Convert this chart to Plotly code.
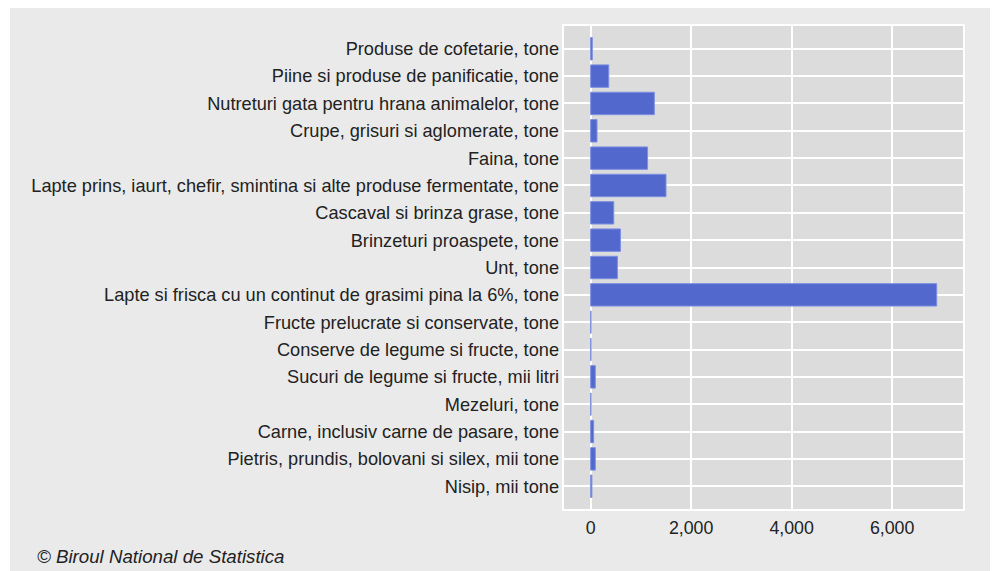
import plotly.graph_objects as go

# categories, top to bottom
products = [
    "Produse de cofetarie, tone",
    "Piine si produse de panificatie, tone",
    "Nutreturi gata pentru hrana animalelor, tone",
    "Crupe, grisuri si aglomerate, tone",
    "Faina, tone",
    "Lapte prins, iaurt, chefir, smintina si alte produse fermentate, tone",
    "Cascaval si brinza grase, tone",
    "Brinzeturi proaspete, tone",
    "Unt, tone",
    "Lapte si frisca cu un continut de grasimi pina la 6%, tone",
    "Fructe prelucrate si conservate, tone",
    "Conserve de legume si fructe, tone",
    "Sucuri de legume si fructe, mii litri",
    "Mezeluri, tone",
    "Carne, inclusiv carne de pasare, tone",
    "Pietris, prundis, bolovani si silex, mii tone",
    "Nisip, mii tone",
]
quantity = [33, 360, 1267, 127, 1133, 1500, 460, 593, 533, 6887,
            8, 8, 93, 8, 60, 93, 25]

x_ticks = [0, 2000, 4000, 6000]

# the page body puts the figure 8px in from the top/left edge,
# so everything below is in figure pixels (picture pixels minus 8)
OFF = 8
W, H = 998 - OFF, 571 - OFF
L, R, T, B = 563 - OFF, 964 - OFF, 25 - OFF, 510 - OFF
pw, ph = R - L, B - T


def px(xp):
    return (xp - OFF - L) / pw


def py(yp):
    return (B - (yp - OFF)) / ph


fig = go.Figure()

fig.add_trace(go.Bar(
    x=quantity, y=products, orientation="h", width=0.82,
    marker=dict(color="#5268cd", line=dict(color="#7d8fe0", width=1)),
    hoverinfo="x+y",
))

fig.update_layout(
    width=W, height=H,
    margin=dict(l=L, r=W - R, t=T, b=H - B, pad=0),
    paper_bgcolor="#eaeaea",
    plot_bgcolor="#dcdcdc",
    font=dict(family="Liberation Sans, Arial, sans-serif", size=18.2, color="#222222"),
    showlegend=False,
    # extra white strip at the very left
    shapes=[dict(type="rect", xref="paper", yref="paper", x0=px(8), x1=px(10),
                 y0=py(571), y1=py(8), fillcolor="white", line_width=0, layer="below")],
    annotations=[dict(
        text="<i>© Biroul National de Statistica</i>", xref="paper", yref="paper",
        x=px(35), y=py(556), xanchor="left", yanchor="middle", showarrow=False,
        font=dict(size=18.7, color="#222222"),
    )],
)

fig.update_xaxes(
    range=[-550, 7430], tickvals=x_ticks, tickformat=",d",
    tickfont=dict(size=17.8),
    showgrid=True, gridcolor="white", gridwidth=1.5, zeroline=False,
    ticks="outside", ticklen=2, tickcolor="rgba(0,0,0,0)", showline=False,
)
fig.update_yaxes(
    categoryorder="array", categoryarray=products,
    range=[len(products) - 1 + 0.87, -0.87],
    showgrid=True, gridcolor="white", gridwidth=1.5,
    ticks="", ticklabelstandoff=3, showline=False,
)

# white frame round the plot area
fig.add_shape(type="rect", xref="paper", yref="paper", x0=0, x1=1, y0=0, y1=1,
              line=dict(color="white", width=2), layer="above")

fig.write_html("out.html")
